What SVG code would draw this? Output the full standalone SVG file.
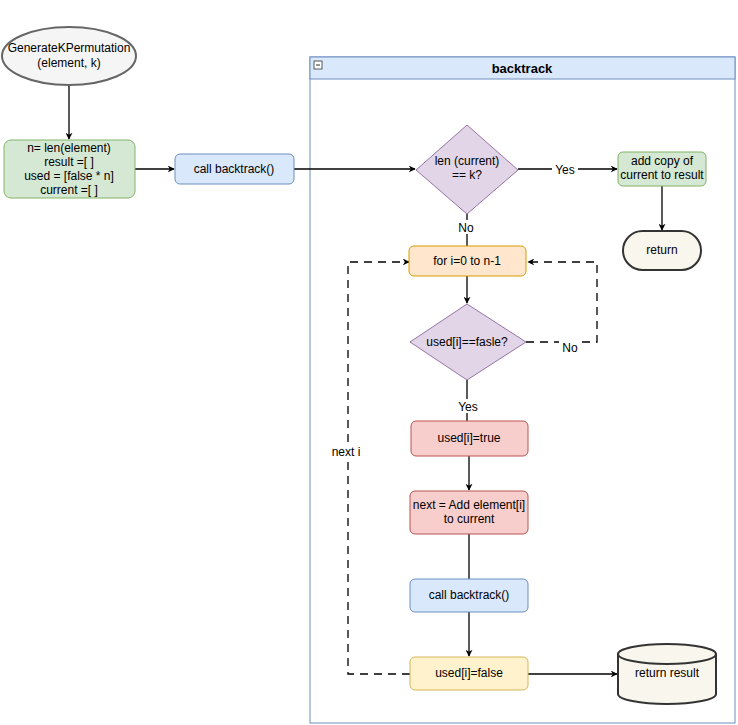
<svg xmlns="http://www.w3.org/2000/svg" width="738" height="725" viewBox="0 0 738 725">
<defs>
<marker id="a" viewBox="0 0 10 10" refX="9" refY="5" markerWidth="7" markerHeight="7" orient="auto" markerUnits="userSpaceOnUse"><path d="M0,0 L10,5 L0,10 L3,5 Z" fill="#000"/></marker>
</defs>
<style>
text{font-family:"Liberation Sans",Arial,sans-serif;font-size:12px;text-anchor:middle;fill:#000}
.l{fill:none;stroke:#000;stroke-width:1.3}
.d{fill:none;stroke:#000;stroke-width:1.3;stroke-dasharray:8 6}
.g{fill:#d5e8d4;stroke:#82b366}
.b{fill:#dae8fc;stroke:#6c8ebf}
.p{fill:#e1d5e7;stroke:#9673a6}
.o{fill:#ffe6cc;stroke:#d79b00}
.r{fill:#f8cecc;stroke:#b85450}
.y{fill:#fff2cc;stroke:#d6b656}
.lb{fill:#fff}
</style>
<rect width="738" height="725" fill="#fff"/>
<g id="container">
<rect x="310" y="57" width="425" height="666" fill="#fff" stroke="#6c8ebf"/>
<rect x="310" y="57" width="425" height="22" fill="#dae8fc" stroke="#6c8ebf"/>
<rect x="314" y="61" width="8" height="8" fill="#fff" stroke="#333" stroke-width="0.8"/>
<line x1="316" y1="65" x2="320" y2="65" stroke="#333"/>
<text x="522" y="73" style="font-weight:bold;font-size:13px">backtrack</text>
</g>
<g id="connectors">
<line class="l" x1="69" y1="86" x2="69" y2="139" marker-end="url(#a)"/>
<line class="l" x1="135" y1="169" x2="174" y2="169" marker-end="url(#a)"/>
<line class="l" x1="294" y1="169" x2="415" y2="169" marker-end="url(#a)"/>
<line class="l" x1="518" y1="169" x2="617" y2="169" marker-end="url(#a)"/>
<line class="l" x1="662" y1="186" x2="662" y2="230" marker-end="url(#a)"/>
<line class="l" x1="467" y1="214" x2="467" y2="246"/>
<line class="l" x1="467" y1="276" x2="467" y2="303" marker-end="url(#a)"/>
<line class="l" x1="467" y1="380" x2="467" y2="421"/>
<line class="l" x1="469" y1="456" x2="469" y2="490" marker-end="url(#a)"/>
<line class="l" x1="469" y1="534" x2="469" y2="579"/>
<line class="l" x1="469" y1="612" x2="469" y2="656" marker-end="url(#a)"/>
<line class="l" x1="528" y1="674" x2="617" y2="674" marker-end="url(#a)"/>
<polyline class="d" points="526,342 597,342 597,262 528,262" marker-end="url(#a)"/>
<polyline class="d" points="410,674 348,674 348,262 409,262" marker-end="url(#a)"/>
<rect class="lb" x="552" y="162" width="26" height="14"/><text x="565" y="174">Yes</text>
<rect class="lb" x="455" y="220" width="24" height="14"/><text x="466" y="232">No</text>
<rect class="lb" x="455" y="399" width="26" height="14"/><text x="468" y="411">Yes</text>
<rect class="lb" x="559" y="340" width="22" height="14"/><text x="570" y="352">No</text>
<rect class="lb" x="328" y="444" width="36" height="14"/><text x="346" y="456">next i</text>
</g>
<g id="start"><ellipse cx="69" cy="56" rx="67" ry="29" fill="#f5f5f5" stroke="#666" stroke-width="2"/><text x="69" y="52" fill="#333">GenerateKPermutation</text><text x="69" y="67" fill="#333">(element, k)</text></g>
<g id="init"><rect class="g" x="4" y="140" width="131" height="58" rx="7"/><text x="69" y="152">n= len(element)</text><text x="69" y="166">result =[ ]</text><text x="69" y="180">used =  [false * n]</text><text x="69" y="194">current =[ ]</text></g>
<g id="call1"><rect class="b" x="175" y="154" width="119" height="30" rx="5"/><text x="234" y="173">call backtrack()</text></g>
<g id="cond1"><polygon class="p" points="467,125 518,170 467,214 416,170"/><text x="467" y="165">len (current)</text><text x="467" y="179">== k?</text></g>
<g id="addcopy"><rect class="g" x="618" y="152" width="88" height="34" rx="5"/><text x="662" y="165">add copy of</text><text x="662" y="179">current to result</text></g>
<g id="return"><rect x="623" y="231" width="78" height="39" rx="19.5" fill="#f9f7ed" stroke="#333" stroke-width="2"/><text x="662" y="254">return</text></g>
<g id="for"><rect class="o" x="409" y="246" width="117" height="30" rx="5"/><text x="467" y="265">for i=0 to n-1</text></g>
<g id="cond2"><polygon class="p" points="467,304 526,342 467,380 410,342"/><text x="467" y="346">used[i]==fasle?</text></g>
<g id="usedtrue"><rect class="r" x="411" y="421" width="117" height="35" rx="5"/><text x="469" y="442">used[i]=true</text></g>
<g id="next"><rect class="r" x="410" y="491" width="118" height="43" rx="5"/><text x="469" y="509">next = Add element[i]</text><text x="469" y="523">to current</text></g>
<g id="call2"><rect class="b" x="410" y="579" width="118" height="33" rx="5"/><text x="469" y="599">call backtrack()</text></g>
<g id="usedfalse"><rect class="y" x="410" y="657" width="118" height="33" rx="5"/><text x="469" y="677">used[i]=false</text></g>
<g id="result"><path d="M618,654 A49,10 0 0 1 716,654 L716,694 A49,10 0 0 1 618,694 Z" fill="#f9f7ed" stroke="#333" stroke-width="2"/><path d="M618,654 A49,10 0 0 0 716,654" fill="none" stroke="#333" stroke-width="2"/><text x="667" y="677">return result</text></g>
</svg>
